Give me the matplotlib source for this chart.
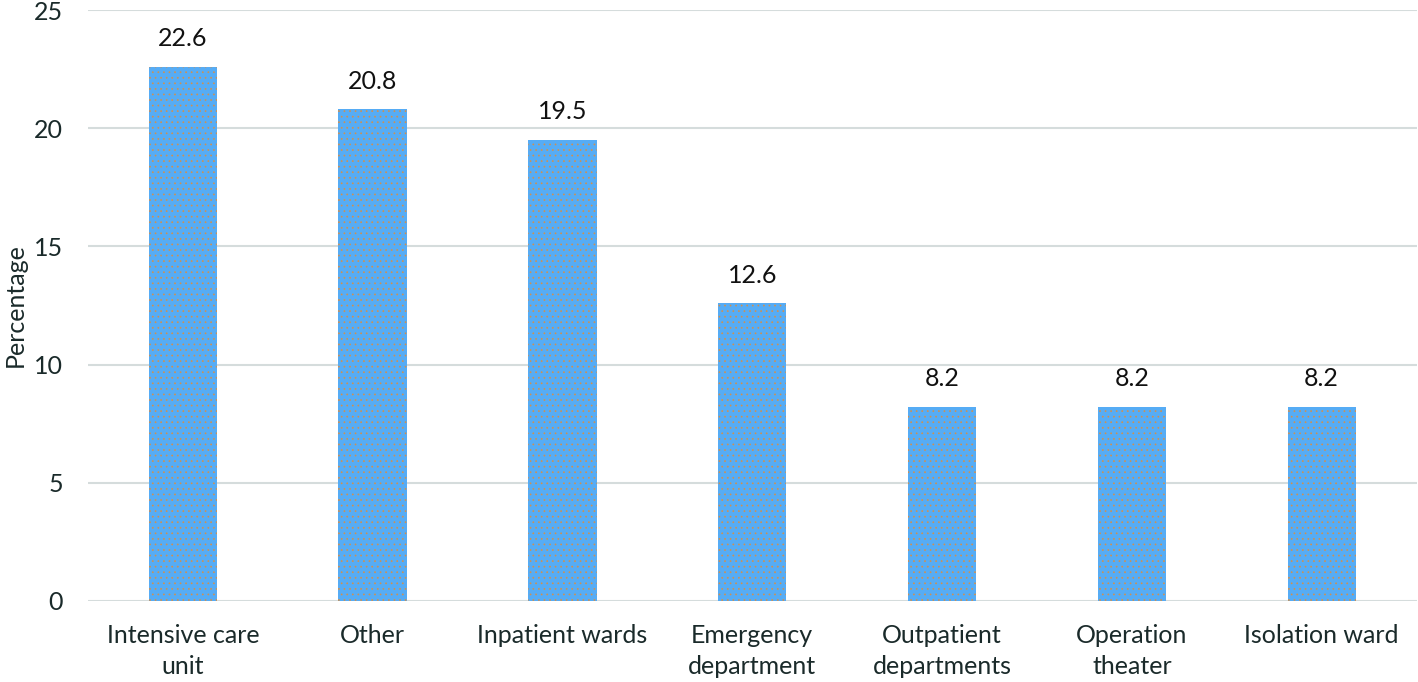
import numpy as np
import matplotlib
import matplotlib.pyplot as plt

rcParams = matplotlib.rcParams
rcParams['font.family'] = ['Lato', 'DejaVu Sans']
rcParams['hatch.color'] = '#d09050'
rcParams['hatch.linewidth'] = 0.5

#%% Data
categories = ['Intensive care\nunit', 'Other', 'Inpatient wards', 'Emergency\ndepartment',
              'Outpatient\ndepartments', 'Operation\ntheater', 'Isolation ward']
values = [22.6, 20.8, 19.5, 12.6, 8.2, 8.2, 8.2]
yticks = [0, 5, 10, 15, 20, 25]

#%% Plot
fig = plt.figure(figsize=(14.18, 6.82), dpi=100)
ax = fig.add_axes([0.062, 0.119, 0.937, 0.866])

x = np.arange(len(categories))
bars = ax.bar(x, values, width=0.36, color='#56acf5', edgecolor='#d09050',
              linewidth=0, hatch='...', zorder=2)

for xi, v in zip(x, values):
    ax.annotate('%.1f' % v, (xi, v), xytext=(0, 12), textcoords='offset points',
                ha='center', va='bottom', fontsize=18, color='#111111')

ax.set_xlim(-0.5, len(categories) - 0.5)
ax.set_ylim(0, 25)
ax.set_yticks(yticks)
ax.set_xticks(x)
ax.set_xticklabels(categories, fontsize=18, color='#1a2a2a', linespacing=1.4)
ax.tick_params(axis='y', labelsize=18, labelcolor='#1a2a2a', length=0, pad=18)
ax.tick_params(axis='x', length=0, pad=17)
ax.yaxis.grid(True, color='#d5dcdc', linewidth=1.5, zorder=0)
for s in ax.spines.values():
    s.set_visible(False)
ax.set_ylabel('Percentage', fontsize=18, color='#1a2a2a')
ax.yaxis.set_label_coords(-0.046, 0.5)

fig.savefig('out.png', dpi=100)
